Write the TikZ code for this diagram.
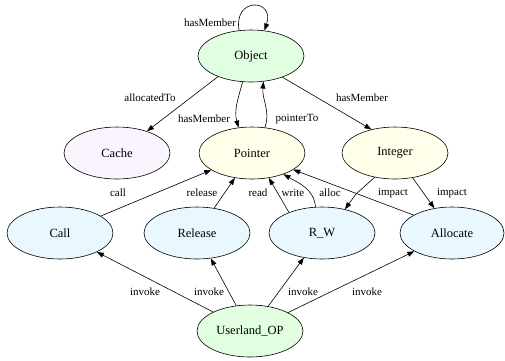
\documentclass[tikz,border=0pt]{standalone}
\usepackage{fontspec}
\setmainfont{Liberation Serif}
\usetikzlibrary{shapes.geometric,arrows.meta}
\definecolor{objgreen}{HTML}{E2FEE0}
\definecolor{cachelilac}{HTML}{FAF4FF}
\definecolor{ptrivory}{HTML}{FFFFEA}
\definecolor{opblue}{HTML}{E9F8FE}
\tikzset{
  ent/.style={ellipse, draw, line width=0.6pt, minimum width=106pt, minimum height=52pt, inner sep=0pt, font=\fontsize{12.5}{14}\selectfont},
  lbl/.style={inner sep=1pt, font=\fontsize{11}{13}\selectfont},
  arr/.style={-{Triangle[length=7pt,width=5pt]}, line width=0.6pt}
}
\begin{document}
\begin{tikzpicture}[x=1pt,y=1pt]
    \useasboundingbox (0,0) rectangle (505,-360);
    \node[ent, fill=objgreen] (object) at (251,-56) {Object};
    \node[ent, fill=cachelilac] (cache) at (117,-153) {Cache};
    \node[ent, fill=ptrivory] (pointer) at (252,-153) {Pointer};
    \node[ent, fill=ptrivory] (integer) at (395,-153) {Integer};
    \node[ent, fill=opblue] (call) at (60,-233) {Call};
    \node[ent, fill=opblue] (release) at (197,-233) {Release};
    \node[ent, fill=opblue] (rw) at (322,-233) {R\_W};
    \node[ent, fill=opblue, minimum width=104pt] (allocate) at (452,-233) {Allocate};
    \node[ent, fill=objgreen] (userland) at (250,-331) {Userland\_OP};
    % edges
    \draw[arr] (object.115) .. controls +(100:34) and +(72:34) .. (object.62);
    \draw[arr] (object.212) -- (cache.36);
    \draw[arr] (object.-108) to[out=-105,in=105] (pointer.118);
    \draw[arr] (pointer.63) to[out=72,in=-95] (object.-64);
    \draw[arr] (object.-34) -- (integer.135);
    \draw[arr] (call) -- (pointer);
    \draw[arr] (release) -- (pointer);
    \draw[arr] (rw.148) -- (pointer.-56);
    \draw[arr] (rw.104) to[out=95,in=-30] (pointer.-34);
    \draw[arr] (allocate.155) -- (pointer.-22);
    \coordinate (bendimp) at (356,-194);
    \draw[arr] (integer.-130) -- (bendimp) -- (rw.46);
    \draw[arr] (integer) -- (allocate);
    \foreach \dst in {call,release,rw,allocate}
        \draw[arr] (userland) -- (\dst);
    % labels
    \node[lbl] (l-loop) at (210,-23) {hasMember};
    \node[lbl] (l-alloc2) at (150,-98) {allocatedTo};
    \node[lbl] (l-memptr) at (204,-119) {hasMember};
    \node[lbl] (l-ptrto) at (297,-119) {pointerTo};
    \node[lbl] (l-memint) at (362,-98) {hasMember};
    \node[lbl] (l-call) at (118,-193) {call};
    \node[lbl] (l-release) at (202,-193) {release};
    \node[lbl] (l-read) at (258,-193) {read};
    \node[lbl] (l-write) at (293,-193) {write};
    \node[lbl] (l-alloc) at (330,-193) {alloc};
    \node[lbl] (l-imp1) at (393,-193) {impact};
    \node[lbl] (l-imp2) at (452,-193) {impact};
    \node[lbl] (l-inv1) at (145,-292) {invoke};
    \node[lbl] (l-inv2) at (209,-292) {invoke};
    \node[lbl] (l-inv3) at (303,-292) {invoke};
    \node[lbl] (l-inv4) at (367,-292) {invoke};
\end{tikzpicture}
\end{document}
